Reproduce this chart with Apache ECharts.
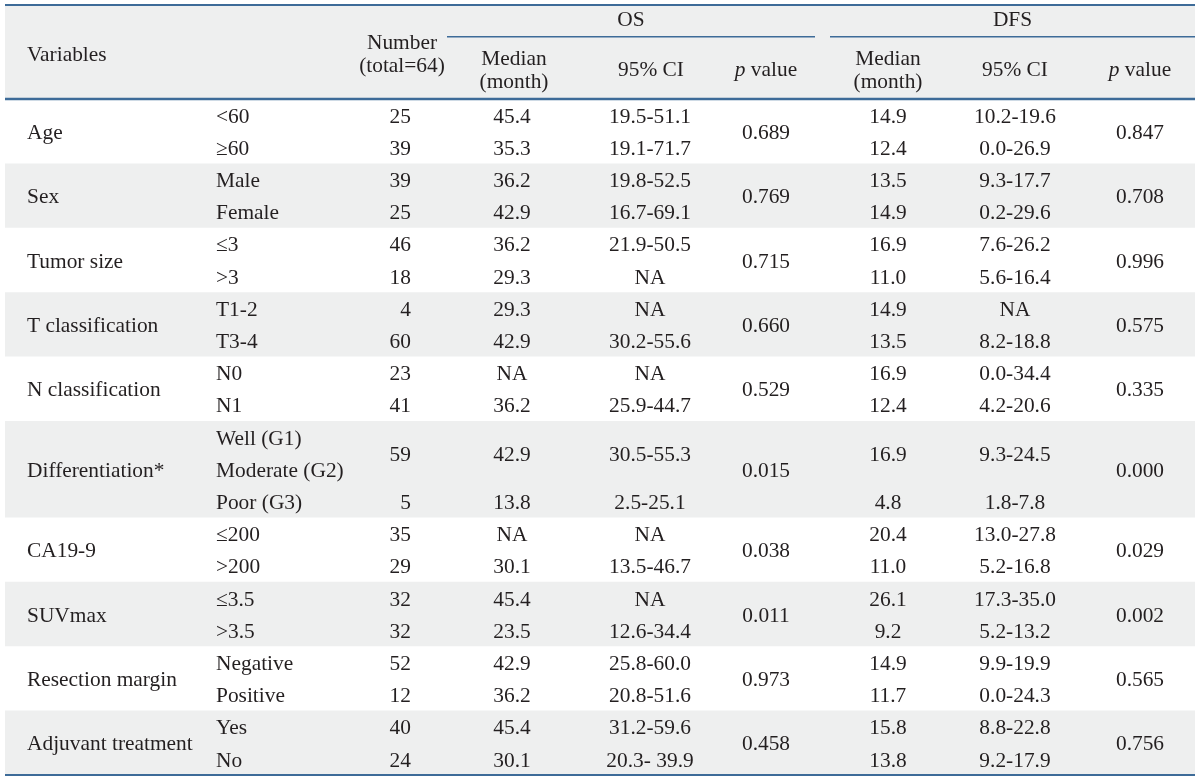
<!DOCTYPE html>
<html><head><meta charset="utf-8">
<script src="https://cdn.jsdelivr.net/npm/echarts@6/dist/echarts.min.js"></script>
<style>html,body{margin:0;padding:0;background:#fff}#c{width:1200px;height:780px}</style>
</head><body><div id="c"></div>
<script>
// ---------- DATA ----------
const variables = ['Age','Sex','Tumor size','T classification','N classification','Differentiation*','CA19-9','SUVmax','Resection margin','Adjuvant treatment'];
const levels = [['<60','\u226560'],['Male','Female'],['\u22643','>3'],['T1-2','T3-4'],['N0','N1'],['Well (G1)','Moderate (G2)','Poor (G3)'],['\u2264200','>200'],['\u22643.5','>3.5'],['Negative','Positive'],['Yes','No']];
const numbers = [[25,39],[39,25],[46,18],[4,60],[23,41],[59,5],[35,29],[32,32],[52,12],[40,24]];
const osMedian = [['45.4','35.3'],['36.2','42.9'],['36.2','29.3'],['29.3','42.9'],['NA','36.2'],['42.9','13.8'],['NA','30.1'],['45.4','23.5'],['42.9','36.2'],['45.4','30.1']];
const osCI = [['19.5-51.1','19.1-71.7'],['19.8-52.5','16.7-69.1'],['21.9-50.5','NA'],['NA','30.2-55.6'],['NA','25.9-44.7'],['30.5-55.3','2.5-25.1'],['NA','13.5-46.7'],['NA','12.6-34.4'],['25.8-60.0','20.8-51.6'],['31.2-59.6','20.3- 39.9']];
const osP = ['0.689','0.769','0.715','0.660','0.529','0.015','0.038','0.011','0.973','0.458'];
const dfsMedian = [['14.9','12.4'],['13.5','14.9'],['16.9','11.0'],['14.9','13.5'],['16.9','12.4'],['16.9','4.8'],['20.4','11.0'],['26.1','9.2'],['14.9','11.7'],['15.8','13.8']];
const dfsCI = [['10.2-19.6','0.0-26.9'],['9.3-17.7','0.2-29.6'],['7.6-26.2','5.6-16.4'],['NA','8.2-18.8'],['0.0-34.4','4.2-20.6'],['9.3-24.5','1.8-7.8'],['13.0-27.8','5.2-16.8'],['17.3-35.0','5.2-13.2'],['9.9-19.9','0.0-24.3'],['8.8-22.8','9.2-17.9']];
const dfsP = ['0.847','0.708','0.996','0.575','0.335','0.000','0.029','0.002','0.565','0.756'];
const headerGroups = ['OS','DFS'];
const headerVariables = 'Variables';
const headerNumber = 'Number\n(total=64)';
const headerMedian = 'Median\n(month)';
const headerCI = '95% CI';
const headerP = '{i|p} value';

// ---------- LAYOUT ----------
const FONT = '"Liberation Serif","Times New Roman",serif';
const FS = 21.4;
const TXT = '#231f20';
const RULE = '#3d6b98';
const BAND = '#eeefef';
const DY = 2;        // text baseline nudge in px
const T_L = 5, T_R = 1195;
const HEAD = 2.92;   // header height in line units
const COL = {variable:27, level:216, number:411, osMed:512, osCI:650, osP:766, dfsMed:888, dfsCI:1015, dfsP:1140};
const HY = {group:-2.49, groupRule:-1.93, main:-1.43, sub:-0.95};
const OS_RULE = [447, 815], DFS_RULE = [830, 1195];

const starts = [];
let acc = 0;
levels.forEach(l => { starts.push(acc); acc += l.length; });
const totalLines = acc;

function txt(api, s, x, y, align, extra) {
  const c = api.coord([x, y]);
  return {type:'text', x:c[0], y:c[1] + DY, silent:true,
    style: Object.assign({text:s, fill:TXT, fontSize:FS, fontFamily:FONT, align:align||'center', verticalAlign:'middle', lineHeight:23}, extra||{})};
}
function rule(api, x0, x1, y, w) {
  const a = api.coord([x0, y]), b = api.coord([x1, y]);
  return {type:'line', silent:true, shape:{x1:a[0], y1:a[1], x2:b[0], y2:b[1]}, style:{stroke:RULE, lineWidth:w||2}};
}

function renderBody(params, api) {
  const g = api.value(0);
  const s = starts[g], n = levels[g].length;
  const ch = [];
  if (g % 2 === 1) {
    const a = api.coord([T_L, s]), b = api.coord([T_R, s + n]);
    ch.push({type:'rect', silent:true, shape:{x:a[0], y:a[1], width:b[0]-a[0], height:b[1]-a[1]}, style:{fill:BAND}});
  }
  ch.push(txt(api, variables[g], COL.variable, s + n/2, 'left'));
  levels[g].forEach((l, k) => ch.push(txt(api, l, COL.level, s + k + 0.5, 'left')));
  const rows = numbers[g].length;
  let rs = s;
  for (let r = 0; r < rows; r++) {
    const span = r === 0 ? n - (rows - 1) : 1;
    const y = rs + span/2;
    ch.push(txt(api, String(numbers[g][r]), COL.number, y, 'right'));
    ch.push(txt(api, osMedian[g][r], COL.osMed, y));
    ch.push(txt(api, osCI[g][r], COL.osCI, y));
    ch.push(txt(api, dfsMedian[g][r], COL.dfsMed, y));
    ch.push(txt(api, dfsCI[g][r], COL.dfsCI, y));
    rs += span;
  }
  ch.push(txt(api, osP[g], COL.osP, s + n/2));
  ch.push(txt(api, dfsP[g], COL.dfsP, s + n/2));
  return {type:'group', children:ch};
}

function renderHeader(params, api) {
  const ch = [];
  const a = api.coord([T_L, -HEAD]), b = api.coord([T_R, 0]);
  ch.push({type:'rect', silent:true, shape:{x:a[0], y:a[1], width:b[0]-a[0], height:b[1]-a[1]}, style:{fill:BAND}});
  const rich = {i:{fontStyle:'italic', fontSize:FS, fontFamily:FONT, fill:TXT}};
  ch.push(txt(api, headerVariables, COL.variable, HY.main, 'left'));
  ch.push(txt(api, headerNumber, (COL.number - 9), HY.main));
  ch.push(txt(api, headerGroups[0], (OS_RULE[0] + OS_RULE[1]) / 2, HY.group));
  ch.push(txt(api, headerGroups[1], (DFS_RULE[0] + DFS_RULE[1]) / 2, HY.group));
  ch.push(txt(api, headerMedian, COL.osMed + 2, HY.sub));
  ch.push(txt(api, headerCI, COL.osCI + 1, HY.sub));
  ch.push(txt(api, headerP, COL.osP, HY.sub, 'center', {rich}));
  ch.push(txt(api, headerMedian, COL.dfsMed, HY.sub));
  ch.push(txt(api, headerCI, COL.dfsCI, HY.sub));
  ch.push(txt(api, headerP, COL.dfsP, HY.sub, 'center', {rich}));
  ch.push(rule(api, T_L, T_R, -HEAD, 2));
  ch.push(rule(api, T_L, T_R, 0, 2.5));
  ch.push(rule(api, T_L, T_R, totalLines, 2));
  ch.push(rule(api, OS_RULE[0], OS_RULE[1], HY.groupRule, 1.5));
  ch.push(rule(api, DFS_RULE[0], DFS_RULE[1], HY.groupRule, 1.5));
  return {type:'group', children:ch};
}

const chart = echarts.init(document.getElementById('c'), null, {renderer:'canvas'});
chart.setOption({
  animation:false,
  backgroundColor:'#ffffff',
  grid:{left:0, right:0, top:5, bottom:5},
  xAxis:{type:'value', min:0, max:1200, show:false},
  yAxis:{type:'value', min:-HEAD, max:totalLines, inverse:true, show:false},
  series:[
    {type:'custom', name:'body', clip:false, renderItem:renderBody, data:variables.map((v,i)=>[i, starts[i]]), z:2},
    {type:'custom', name:'header', clip:false, renderItem:renderHeader, data:[[0, -HEAD]], z:3}
  ]
});
</script></body></html>
